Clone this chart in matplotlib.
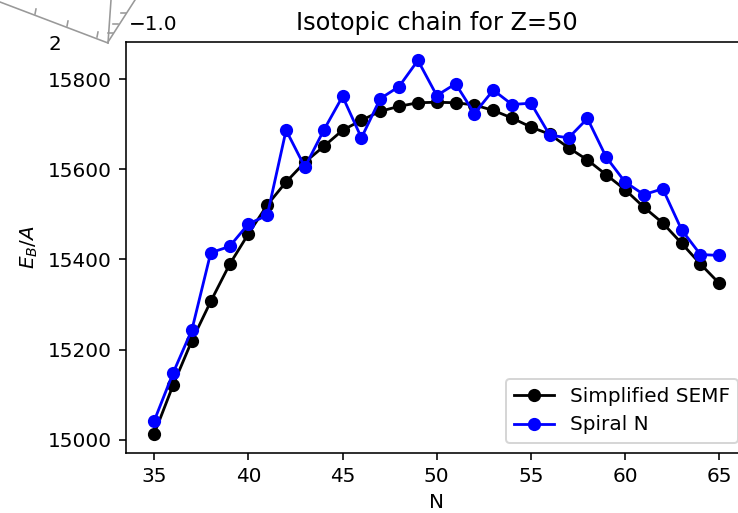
import numpy as np
import matplotlib
matplotlib.use('Agg')
import matplotlib.pyplot as plt
from matplotlib.lines import Line2D

#neutron numbers
N=list(range(35,66))

#binding energy per nucleon, simplified SEMF
semf=[15013,15121,15220,15307,15389,15457,15521,15572,15616,15651,
      15687,15709,15729,15740,15748,15749,15748,15743,15731,15714,
      15694,15678,15648,15621,15588,15555,15516,15481,15436,15390,
      15347]

#binding energy per nucleon, spiral N
spiral=[15042,15148,15244,15415,15429,15479,15498,15687,15605,15687,
        15762,15670,15757,15784,15842,15764,15790,15724,15776,15744,
        15747,15676,15670,15713,15627,15572,15544,15557,15466,15411,
        15409]

dpi=144
W,H=738,513
fig=plt.figure(figsize=(W/dpi,H/dpi),dpi=dpi)

#main axes, right part runs past the figure edge as in the cropped original
ax=fig.add_axes([126/W,1-452.5/H,(747.5-126)/W,(452.5-41.7)/H])
ax.plot(N,semf,'o-',color='k',label='Simplified SEMF',ms=5.6,lw=1.4)
ax.plot(N,spiral,'o-',color='b',label='Spiral N',ms=5.6,lw=1.4)
ax.set_xlabel('N')
ax.set_ylabel('$E_B/A$')
ax.set_title('Isotopic chain for Z=50')
ax.set_xticks([35,40,45,50,55,60,65])
ax.legend(loc='lower right')

#remnant of a neighbouring 3d panel in the top-left corner
def px(x,y):
    return x/W,1-y/H

segs=[[(0,2),(108,43)],[(108,43),(111,0)],[(108,42),(135,0)],
      [(35,14),(36,9)],[(67,26),(68,21)],[(97,37),(98,32)],
      [(113,33),(108,33)],[(118,24),(113,24)],[(126,13),(121,13)]]
for s in segs:
    (x0,y0),(x1,y1)=px(*s[0]),px(*s[1])
    fig.add_artist(Line2D([x0,x1],[y0,y1],color='0.6',lw=0.8,
                          transform=fig.transFigure))
fig.text(*px(55,45),'2',ha='center',va='center',fontsize=10)
fig.text(*px(153,25),'\u22121.0',ha='center',va='center',fontsize=10)

fig.savefig('out.png',dpi=dpi)
